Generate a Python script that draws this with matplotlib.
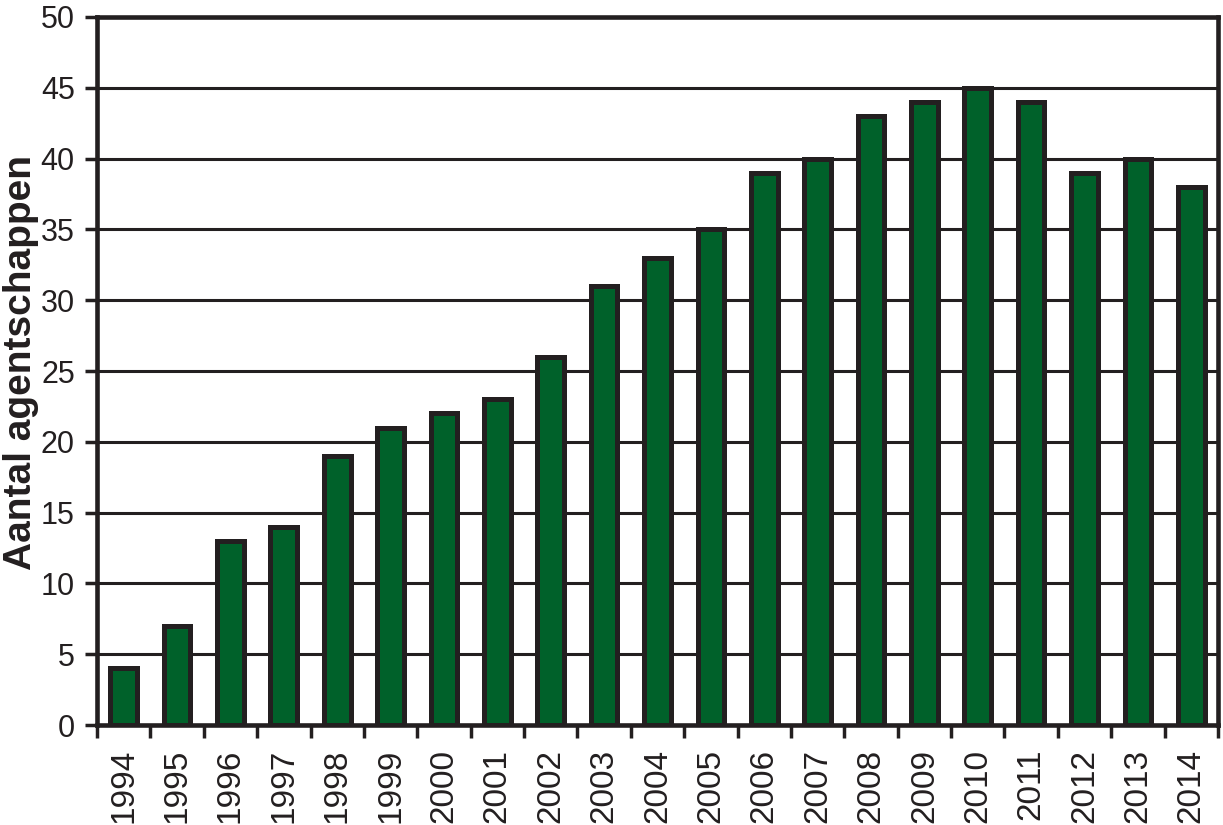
import matplotlib.pyplot as plt

years = [str(y) for y in range(1994, 2015)]
counts = [4, 7, 13, 14, 19, 21, 22, 23, 26, 31, 33, 35, 39, 40, 43, 44, 45, 44, 39, 40, 38]

dark = "#231f20"
green = "#00612a"

plt.rcParams['font.family'] = ['Liberation Sans', 'DejaVu Sans']

fig = plt.figure(figsize=(12.23, 8.25), dpi=100)
ax = fig.add_axes([0.0793, 0.1212, 0.9166, 0.8582])

x = list(range(len(years)))
ax.bar(x, counts, width=0.5, color=green, edgecolor=dark, linewidth=3.6, zorder=3)

ax.set_xlim(-0.5, len(years) - 0.5)
ax.set_ylim(0, 50)
ax.set_yticks(range(0, 51, 5))
ax.yaxis.grid(True, color=dark, linewidth=2.2, zorder=1)
ax.set_axisbelow(True)

# ticks between the bars, labels centered under bars
ax.set_xticks([i - 0.5 for i in range(len(years) + 1)])
ax.set_xticklabels([])
ax.set_xticks(x, minor=True)
ax.set_xticklabels(years, minor=True, rotation=90, fontsize=24, color=dark, va='top')
ax.tick_params(axis='x', which='major', length=9, width=2.5, color=dark, direction='out')
ax.tick_params(axis='x', which='minor', length=0, pad=17)
ax.tick_params(axis='y', length=9, width=2.5, color=dark, labelsize=22, labelcolor=dark, pad=7)

for s in ax.spines.values():
    s.set_linewidth(3.3)
    s.set_color(dark)
    s.set_zorder(4)

fig.text(21 / 1223, 1 - 362 / 825, "Aantal agentschappen", rotation=90,
         ha='center', va='center', fontsize=28, fontweight='bold', color=dark)

fig.savefig("out.png", dpi=100)
